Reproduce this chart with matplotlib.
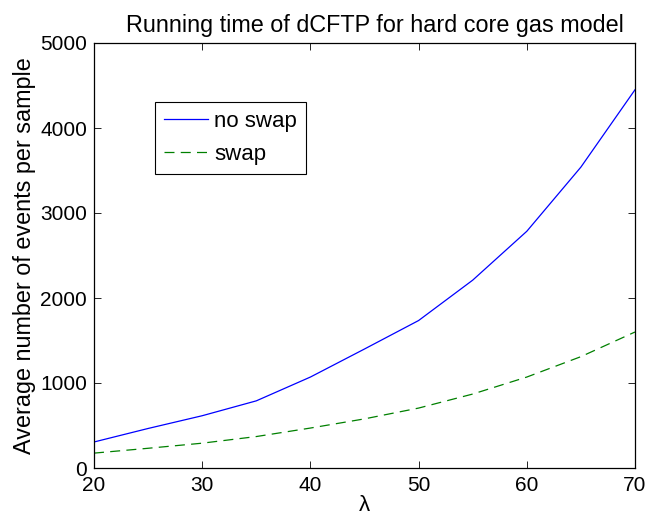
import matplotlib
matplotlib.use("Agg")
import matplotlib.pyplot as plt

plt.rcParams['font.family'] = ['Liberation Sans', 'DejaVu Sans']

# values
lam = [20, 25, 30, 35, 40, 45, 50, 55, 60, 65, 70]
no_swap = [306, 465, 615, 790, 1070, 1400, 1735, 2210, 2785, 3540, 4450]
swap = [175, 232, 292, 370, 470, 578, 705, 870, 1070, 1310, 1600]

fig = plt.figure(figsize=(6.51, 5.21), dpi=100)
ax = fig.add_axes([94 / 651, 53 / 521, 541 / 651, 425 / 521])

ax.plot(lam, no_swap, color='#0000ff', lw=0.9, label='no swap')
ax.plot(lam, swap, color='#008000', lw=0.9, ls=(0, (8, 5)), label='swap')

ax.set_xlim(20, 70)
ax.set_ylim(0, 5000)
ax.set_xticks([20, 30, 40, 50, 60, 70])
ax.set_yticks([0, 1000, 2000, 3000, 4000, 5000])
ax.tick_params(direction='in', top=True, right=True, length=5, width=0.6,
               labelsize=15)
ax.tick_params(axis='x', pad=6)
ax.tick_params(axis='y', pad=5)
for s in ax.spines.values():
    s.set_linewidth(0.9)

ax.set_title('Running time of dCFTP for hard core gas model', fontsize=16.8,
             pad=8, x=0.52)
ax.set_xlabel('λ', fontsize=16, labelpad=0)
ax.set_ylabel('Average number of events per sample', fontsize=16.8, labelpad=3)

leg = ax.legend(loc='upper left', bbox_to_anchor=(0.1128, 0.861), fontsize=16,
                fancybox=False, edgecolor='black', framealpha=1,
                handlelength=2.0, handletextpad=0.25, borderpad=0.4,
                labelspacing=0.55, borderaxespad=0)
leg.get_frame().set_linewidth(0.8)

fig.savefig('out.png', dpi=100)
